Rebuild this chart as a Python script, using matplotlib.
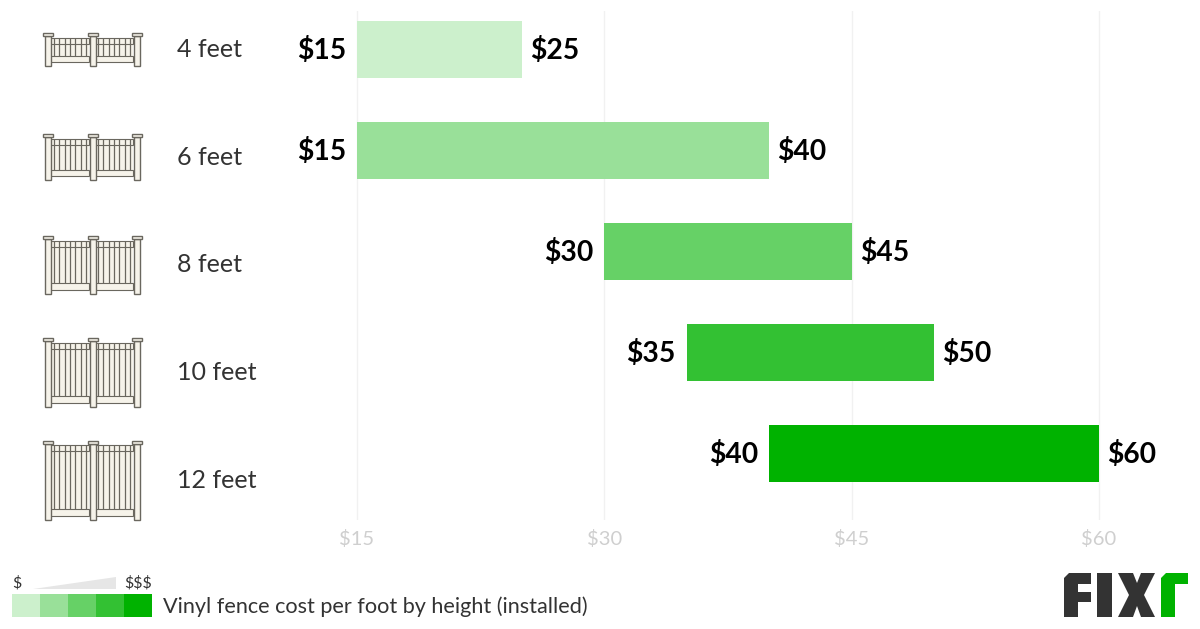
import matplotlib
matplotlib.use("Agg")
import matplotlib.pyplot as plt
from matplotlib.patches import Rectangle, Polygon

plt.rcParams['font.family'] = ['Lato', 'DejaVu Sans']

# chart data
heights = ["4 feet", "6 feet", "8 feet", "10 feet", "12 feet"]
low = [15, 15, 30, 35, 40]
high = [25, 40, 45, 50, 60]
ticks = [15, 30, 45, 60]
colors = ["#ccf0cc", "#99e099", "#66d166", "#33c133", "#00b200"]
legend_text = "Vinyl fence cost per foot by height (installed)"

W, H = 1200, 629
fig = plt.figure(figsize=(W / 100, H / 100), dpi=100)

# overlay in pixel coordinates for the icons, legend and logo
bg = fig.add_axes([0, 0, 1, 1])
bg.set_xlim(0, W)
bg.set_ylim(H, 0)
bg.axis("off")

# main axes, $15 sits at x=357px and $60 at x=1099px
px_per_dollar = (1099 - 357) / 45
left, right = 270, 1190
top, bottom = 11, 520
ax = fig.add_axes([left / W, 1 - bottom / H, (right - left) / W, (bottom - top) / H])
ax.patch.set_alpha(0)
ax.set_xlim(15 - (357 - left) / px_per_dollar, 15 + (right - 357) / px_per_dollar)
row_px = 100.9
ax.set_ylim((bottom - 49.5) / row_px, (top - 49.5) / row_px)

rows = list(range(len(heights)))
widths = [h - l for l, h in zip(low, high)]
ax.barh(rows, widths, left=low, height=57 / row_px, color=colors, zorder=3)

for r, l, h in zip(rows, low, high):
    ax.annotate(f"${l}", (l, r), xytext=(-7.8, -1), textcoords="offset points",
                ha="right", va="center", fontsize=20.3, fontweight="bold", color="black")
    ax.annotate(f"${h}", (h, r), xytext=(5.8, -1), textcoords="offset points",
                ha="left", va="center", fontsize=20.3, fontweight="bold", color="black")

ax.set_xticks(ticks)
ax.set_xticklabels([f"${t}" for t in ticks], fontsize=14.5, color="#cfcfcf")
ax.set_yticks([])
ax.tick_params(axis="x", length=0, pad=7.5)
ax.grid(axis="x", color="#f1f1f1", linewidth=1, zorder=0)
for s in ax.spines.values():
    s.set_visible(False)


def fence(cap_top, post_bottom, rail_top, rail_low):
    line = "#6a675f"
    fill = "#f6f3ea"
    # panel fill with single dark lines for the pickets
    for x0 in (51, 95):
        bg.add_patch(Rectangle((x0, rail_top), 38, rail_low - rail_top, fc=fill, ec="none"))
        for i in range(7):
            x = x0 + 3 + i * 5.3
            bg.plot([x, x], [rail_top, rail_low], color=line, lw=0.9, solid_capstyle="butt")
    for x0 in (50, 95):
        w = 39 if x0 == 50 else 38
        bg.add_patch(Rectangle((x0, rail_top), w, 6, fc=fill, ec=line, lw=0.8))
        bg.add_patch(Rectangle((x0, rail_low), w, 6.5, fc=fill, ec=line, lw=0.8))
    for x0 in (45, 89.5, 133.5):
        bg.add_patch(Rectangle((x0, cap_top + 3), 6, post_bottom - cap_top - 3, fc=fill, ec=line, lw=1))
        bg.add_patch(Rectangle((x0 - 2, cap_top), 10, 3, fc=fill, ec=line, lw=1))


fence(33, 66, 37.5, 55.5)
fence(134, 180, 139, 169.5)
fence(236, 294, 241, 283)
fence(338, 407, 342.5, 396)
fence(440.5, 520, 445, 509)
# plot() on the overlay must not move its pixel limits
bg.set_xlim(0, W)
bg.set_ylim(H, 0)

# height labels, lined up with the icons rather than the bars
for name, y in zip(heights, [49.5, 157.5, 264.5, 372.5, 480]):
    bg.text(177, y, name, fontsize=18, color="#333333", ha="left", va="center")

# legend
swatch = 28
for i, c in enumerate(colors):
    bg.add_patch(Rectangle((12 + i * swatch, 594), swatch, 23, fc=c, ec="none"))
bg.add_patch(Polygon([(33, 589), (116, 577), (116, 589)], fc="#e6e6e6", ec="none"))
bg.text(12, 583, "$", fontsize=11.5, color="#333333", ha="left", va="center")
bg.text(152, 583, "$$$", fontsize=11.5, color="#333333", ha="right", va="center")
bg.text(163, 607, legend_text, fontsize=15.55, color="#333333", ha="left", va="center")

# logo
dark = "#333333"
bg.add_patch(Polygon([(1064, 578), (1069, 573), (1091, 573), (1091, 584), (1078, 584), (1078, 592),
                      (1091, 592), (1091, 602), (1078, 602), (1078, 617), (1064, 617)], fc=dark, ec="none"))
bg.add_patch(Rectangle((1097, 573), 15, 44, fc=dark, ec="none"))
bg.add_patch(Polygon([(1118, 573), (1133, 573), (1137, 583), (1141, 573), (1155, 573), (1144, 595),
                      (1155, 617), (1141, 617), (1137, 606), (1133, 617), (1118, 617), (1129, 595)],
                     fc=dark, ec="none"))
bg.add_patch(Polygon([(1161, 578), (1166, 573), (1188, 573), (1188, 584), (1175, 584), (1175, 617),
                      (1161, 617)], fc="#00b200", ec="none"))

fig.savefig("out.png", dpi=100)
plt.close()
